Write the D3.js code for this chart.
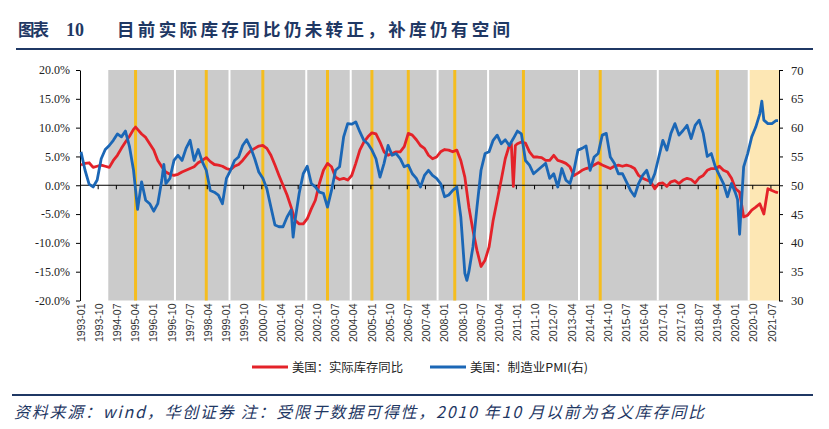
<!DOCTYPE html>
<html><head><meta charset="utf-8">
<script src="https://cdn.jsdelivr.net/npm/d3@7"></script>
<style>
html,body{margin:0;padding:0;background:#fff;}
svg{display:block;}
</style></head>
<body>
<svg id="chart" width="829" height="429"></svg>
<script>
// ---------- DATA ----------
const titleLabel = "图表";
const titleNumber = "10";
const titleText = "目前实际库存同比仍未转正，补库仍有空间";
const sourceText = "资料来源：wind，华创证券 注：受限于数据可得性，2010 年10 月以前为名义库存同比";
const seriesNames = ["美国：实际库存同比", "美国：制造业PMI(右)"];

const startMonth = "1993-01";
const endMonth = "2021-10";
const xTickLabels = ["1993-01","1993-10","1994-07","1995-04","1996-01","1996-10","1997-07","1998-04","1999-01","1999-10","2000-07","2001-04","2002-01","2002-10","2003-07","2004-04","2005-01","2005-10","2006-07","2007-04","2008-01","2008-10","2009-07","2010-04","2011-01","2011-10","2012-07","2013-04","2014-01","2014-10","2015-07","2016-04","2017-01","2017-10","2018-07","2019-04","2020-01","2020-10","2021-07"];
const leftTicks = [20,15,10,5,0,-5,-10,-15,-20];
const rightTicks = [70,65,60,55,50,45,40,35,30];

// shaded periods
const grayPeriod = ["1994-03","2020-08"];
const orangePeriod = ["2020-08","2021-11"];
const whiteSeparators = ["1996-12","1999-03","2002-05","2004-03","2007-10","2009-11","2013-08","2016-11","2020-08"];
const yellowMarkers = ["1995-04","1998-03","2000-07","2003-03","2005-01","2006-07","2008-06","2011-04","2014-06","2019-04"];

// 美国：实际库存同比 (%)
const inventoryYoY = [
["1993-01",3.5],["1993-03",3.8],["1993-05",3.9],["1993-07",3.1],["1993-09",3.3],["1993-11",3.5],
["1994-01",3.3],["1994-03",3.1],["1994-05",4.3],["1994-07",5.2],["1994-09",6.4],["1994-11",7.5],
["1995-01",8.5],["1995-03",9.7],["1995-04",10.1],["1995-05",9.7],["1995-07",8.9],["1995-09",8.3],["1995-11",7.2],
["1996-01",6.1],["1996-03",4.3],["1996-05",3.2],["1996-07",2.3],["1996-09",1.9],["1996-11",1.7],
["1997-01",1.9],["1997-03",2.3],["1997-05",2.6],["1997-07",2.9],["1997-09",3.2],["1997-11",3.9],
["1998-01",4.3],["1998-03",4.8],["1998-05",4.1],["1998-07",3.6],["1998-09",3.5],["1998-11",3.3],
["1999-01",2.9],["1999-03",2.7],["1999-05",3.3],["1999-07",3.6],["1999-09",4.3],["1999-11",5.2],
["2000-01",6.0],["2000-03",6.4],["2000-05",6.8],["2000-07",6.9],["2000-09",6.4],["2000-11",5.2],
["2001-01",3.5],["2001-03",1.7],["2001-05",0.0],["2001-07",-1.7],["2001-09",-3.8],["2001-11",-6.1],
["2002-01",-6.7],["2002-03",-6.7],["2002-05",-5.8],["2002-07",-4.1],["2002-09",-2.6],["2002-11",0.3],
["2003-01",2.6],["2003-03",3.8],["2003-05",3.2],["2003-07",1.4],["2003-09",1.0],["2003-11",1.2],
["2004-01",0.9],["2004-03",1.7],["2004-05",3.8],["2004-07",6.1],["2004-09",7.5],["2004-11",8.4],
["2005-01",9.1],["2005-03",8.9],["2005-05",7.5],["2005-07",5.8],["2005-09",5.2],["2005-11",5.5],
["2006-01",5.8],["2006-03",5.8],["2006-05",6.7],["2006-07",9.0],["2006-09",8.7],["2006-11",7.9],
["2007-01",6.9],["2007-03",6.4],["2007-05",5.2],["2007-07",4.6],["2007-09",4.9],["2007-11",5.8],
["2008-01",6.2],["2008-03",6.1],["2008-05",5.8],["2008-07",6.1],["2008-09",4.3],["2008-11",1.4],
["2009-01",-3.8],["2009-03",-7.8],["2009-05",-11.3],["2009-07",-14.1],["2009-09",-13.0],["2009-11",-10.7],
["2010-01",-6.1],["2010-03",-2.6],["2010-05",0.9],["2010-07",4.6],["2010-09",6.9],["2010-10",7.2],["2010-11",-0.2],["2010-12",6.9],
["2011-01",7.2],["2011-03",7.5],["2011-05",7.3],["2011-07",5.8],["2011-09",4.9],["2011-11",4.9],
["2012-01",4.8],["2012-03",4.3],["2012-05",4.3],["2012-07",5.2],["2012-09",4.3],["2012-11",4.1],
["2013-01",3.8],["2013-03",3.2],["2013-05",1.7],["2013-07",2.1],["2013-09",2.6],["2013-11",2.9],
["2014-01",3.1],["2014-03",3.5],["2014-05",3.9],["2014-07",3.5],["2014-09",3.2],["2014-11",2.9],
["2015-01",3.3],["2015-03",3.5],["2015-05",3.3],["2015-07",3.5],["2015-09",3.3],["2015-11",2.9],
["2016-01",1.7],["2016-03",1.2],["2016-05",0.9],["2016-07",0.6],["2016-09",-0.6],["2016-11",0.3],
["2017-01",0.4],["2017-03",-0.2],["2017-05",0.6],["2017-07",0.8],["2017-09",0.3],["2017-11",0.9],
["2018-01",1.2],["2018-03",1.0],["2018-05",0.4],["2018-07",1.3],["2018-09",1.7],["2018-11",2.6],
["2019-01",2.9],["2019-03",2.9],["2019-05",3.3],["2019-07",2.6],["2019-09",2.3],["2019-11",1.2],
["2020-01",-0.6],["2020-03",-1.2],["2020-05",-5.5],["2020-07",-5.2],["2020-09",-4.3],["2020-11",-3.8],
["2021-01",-3.2],["2021-03",-5.0],["2021-05",-0.6],["2021-07",-0.9],["2021-09",-1.2],["2021-10",-1.3]
];

// 美国：制造业PMI (右轴)
const pmi = [
["1993-01",55.8],["1993-03",52.6],["1993-05",50.2],["1993-07",49.7],["1993-09",50.9],["1993-11",54.6],
["1994-01",56.2],["1994-03",56.9],["1994-05",57.8],["1994-07",58.9],["1994-09",58.4],["1994-11",59.4],
["1995-01",56.7],["1995-03",52.6],["1995-05",45.8],["1995-07",50.6],["1995-09",47.4],["1995-11",46.8],
["1996-01",45.5],["1996-03",46.8],["1996-05",50.9],["1996-06",53.6],["1996-07",50.3],["1996-09",51.2],["1996-11",54.3],
["1997-01",55.2],["1997-03",54.3],["1997-05",56.4],["1997-07",57.8],["1997-09",54.3],["1997-11",56.2],
["1998-01",54.1],["1998-03",52.6],["1998-05",49.1],["1998-07",48.8],["1998-09",48.3],["1998-11",46.8],
["1999-01",51.2],["1999-03",52.6],["1999-05",54.3],["1999-07",54.9],["1999-09",56.9],["1999-11",57.9],
["2000-01",56.5],["2000-03",54.6],["2000-05",52.3],["2000-07",51.2],["2000-09",49.4],["2000-11",46.2],
["2001-01",43.1],["2001-03",42.8],["2001-05",42.8],["2001-07",44.5],["2001-09",45.7],["2001-10",41.0],["2001-11",44.0],
["2002-01",48.6],["2002-03",52.0],["2002-05",53.3],["2002-07",50.3],["2002-09",49.7],["2002-11",48.8],
["2003-01",48.6],["2003-03",46.2],["2003-05",49.1],["2003-07",52.6],["2003-09",53.2],["2003-11",58.4],
["2004-01",60.7],["2004-03",60.6],["2004-05",61.0],["2004-07",59.3],["2004-09",57.8],["2004-11",57.2],
["2005-01",56.1],["2005-03",54.6],["2005-05",51.4],["2005-07",53.8],["2005-09",56.9],["2005-11",55.2],
["2006-01",55.5],["2006-03",54.6],["2006-05",53.2],["2006-07",53.5],["2006-09",52.0],["2006-11",51.2],
["2007-01",49.7],["2007-03",51.7],["2007-05",52.6],["2007-07",51.7],["2007-09",51.2],["2007-11",50.3],
["2008-01",48.0],["2008-03",48.3],["2008-05",49.1],["2008-07",49.7],["2008-09",44.5],["2008-11",34.7],["2008-12",33.5],
["2009-01",35.0],["2009-03",39.3],["2009-05",46.2],["2009-07",52.6],["2009-09",55.5],["2009-11",55.8],
["2010-01",57.8],["2010-03",58.7],["2010-05",57.2],["2010-07",57.9],["2010-09",56.9],["2010-11",58.1],
["2011-01",59.4],["2011-03",58.9],["2011-05",54.3],["2011-07",53.5],["2011-09",52.0],["2011-11",52.6],
["2012-01",53.2],["2012-03",53.8],["2012-05",51.2],["2012-07",52.0],["2012-09",49.7],["2012-11",52.9],
["2013-01",50.9],["2013-03",50.3],["2013-05",52.6],["2013-07",56.1],["2013-09",56.4],["2013-11",56.8],
["2014-01",52.6],["2014-03",54.9],["2014-05",55.5],["2014-07",58.7],["2014-09",59.0],["2014-11",54.9],
["2015-01",53.8],["2015-03",52.0],["2015-05",52.0],["2015-07",50.6],["2015-09",49.1],["2015-11",48.1],
["2016-01",50.3],["2016-03",51.7],["2016-05",52.6],["2016-07",50.3],["2016-09",52.0],["2016-11",54.9],
["2017-01",57.8],["2017-03",56.1],["2017-05",59.0],["2017-07",60.7],["2017-09",58.7],["2017-11",59.5],
["2018-01",60.4],["2018-03",58.1],["2018-05",60.4],["2018-07",61.3],["2018-09",59.0],["2018-11",55.0],
["2019-01",55.5],["2019-03",53.2],["2019-05",51.7],["2019-07",50.3],["2019-09",48.0],["2019-11",50.3],
["2020-01",48.6],["2020-02",47.5],["2020-03",41.5],["2020-04",47.4],["2020-05",53.2],["2020-07",55.5],["2020-09",58.4],["2020-11",60.1],
["2021-01",62.4],["2021-02",64.6],["2021-03",61.3],["2021-05",60.7],["2021-07",60.7],["2021-09",61.2],["2021-10",61.2]
];

// ---------- CHART ----------
const svg = d3.select("#chart");
const W = 829, H = 429;
const m = {left: 80, right: 779, top: 70, bottom: 300.5};
const cjk = "'Noto Sans CJK SC','Noto Sans',sans-serif";
const navy = "#1f3864";

const idx = s => { const [y, mo] = s.split("-").map(Number); return (y - 1993) * 12 + (mo - 1); };
const nMonths = idx(endMonth) - idx(startMonth) + 1;

const xB = d3.scaleLinear().domain([0, nMonths]).range([m.left, m.right]); // month boundaries
const xC = s => xB(idx(s) + 0.5);                                           // month centers
const yL = d3.scaleLinear().domain([-20, 20]).range([m.bottom, m.top]);
const yR = d3.scaleLinear().domain([30, 70]).range([m.bottom, m.top]);

svg.append("rect").attr("width", W).attr("height", H).attr("fill", "#fff");

// Title
svg.append("text").attr("x", 18).attr("y", 36).attr("font-family", cjk).attr("font-weight", 700)
  .attr("font-size", 16.5).attr("fill", navy).attr("textLength", 31).attr("lengthAdjust","spacing").text(titleLabel);
svg.append("text").attr("x", 66).attr("y", 36).attr("font-family", "'Liberation Serif',serif").attr("font-weight", 700)
  .attr("font-size", 18).attr("fill", navy).text(titleNumber);
svg.append("text").attr("x", 117).attr("y", 36).attr("font-family", cjk).attr("font-weight", 700)
  .attr("font-size", 17.5).attr("fill", navy).attr("textLength", 393).attr("lengthAdjust","spacing").text(titleText);
svg.append("line").attr("x1", 16).attr("x2", 813).attr("y1", 49).attr("y2", 49).attr("stroke", navy).attr("stroke-width", 2);

// Background periods
const plot = svg.append("g");
plot.append("rect").attr("x", xB(idx(grayPeriod[0]))).attr("y", m.top)
  .attr("width", xB(idx(grayPeriod[1])) - xB(idx(grayPeriod[0]))).attr("height", m.bottom - m.top).attr("fill", "#cbcbcb");
plot.append("rect").attr("x", xB(idx(orangePeriod[0]))).attr("y", m.top)
  .attr("width", m.right - xB(idx(orangePeriod[0]))).attr("height", m.bottom - m.top).attr("fill", "#fde7b4");
plot.selectAll(".sep").data(whiteSeparators).join("line")
  .attr("x1", d => xB(idx(d))).attr("x2", d => xB(idx(d))).attr("y1", m.top).attr("y2", m.bottom)
  .attr("stroke", "#fff").attr("stroke-width", 2);
plot.selectAll(".yel").data(yellowMarkers).join("line")
  .attr("x1", d => xC(d)).attr("x2", d => xC(d)).attr("y1", m.top).attr("y2", m.bottom)
  .attr("stroke", "#f5bd1f").attr("stroke-width", 3);

// zero line and x ticks
svg.append("line").attr("x1", m.left).attr("x2", m.right).attr("y1", yL(0)).attr("y2", yL(0))
  .attr("stroke", "#000").attr("stroke-width", 1);
svg.selectAll(".xt").data(xTickLabels.slice(1)).join("line")
  .attr("x1", d => xB(idx(d))).attr("x2", d => xB(idx(d))).attr("y1", yL(0)).attr("y2", yL(0) + 4)
  .attr("stroke", "#000").attr("stroke-width", 1);

// x labels
svg.selectAll(".xl").data(xTickLabels).join("text")
  .attr("transform", d => `translate(${xC(d)},${m.bottom + 3}) rotate(-90)`)
  .attr("text-anchor", "end").attr("dy", "0.35em")
  .attr("font-family", "'Liberation Sans',Arial,sans-serif").attr("font-size", 10.5).attr("fill", "#333")
  .text(d => d);

// left axis
const gl = svg.append("g").attr("transform", `translate(${m.left},0)`)
  .call(d3.axisLeft(yL).tickValues(leftTicks).tickSize(4).tickSizeOuter(0).tickFormat(d => d.toFixed(1) + "%"));
gl.select(".domain").attr("stroke", "#000");
gl.selectAll(".tick line").attr("stroke", "#000");
gl.selectAll("text").attr("font-family", "'Liberation Serif','Times New Roman',serif").attr("font-size", 12).attr("fill", "#222").attr("x", -10);

// right axis
const gr = svg.append("g").attr("transform", `translate(${m.right},0)`)
  .call(d3.axisRight(yR).tickValues(rightTicks).tickSize(4).tickSizeOuter(0));
gr.select(".domain").attr("stroke", "#000");
gr.selectAll(".tick line").attr("stroke", "#000");
gr.selectAll("text").attr("font-family", "'Liberation Serif','Times New Roman',serif").attr("font-size", 12.5).attr("fill", "#222").attr("x", 12);

// lines
const lineL = d3.line().x(d => xC(d[0])).y(d => yL(d[1]));
const lineR = d3.line().x(d => xC(d[0])).y(d => yR(d[1]));
svg.append("path").datum(inventoryYoY).attr("d", lineL).attr("fill", "none")
  .attr("stroke", "#e42229").attr("stroke-width", 2.8).attr("stroke-linejoin", "round");
svg.append("path").datum(pmi).attr("d", lineR).attr("fill", "none")
  .attr("stroke", "#1b67b6").attr("stroke-width", 2.8).attr("stroke-linejoin", "round");

// legend
const lg = svg.append("g");
const legendItems = [{name: seriesNames[0], color: "#e42229", x: 252, w: 111}, {name: seriesNames[1], color: "#1b67b6", x: 430, w: 118}];
lg.selectAll("line").data(legendItems).join("line")
  .attr("x1", d => d.x).attr("x2", d => d.x + 36).attr("y1", 367).attr("y2", 367)
  .attr("stroke", d => d.color).attr("stroke-width", 2.8);
lg.selectAll("text").data(legendItems).join("text")
  .attr("x", d => d.x + 40).attr("y", 371.5).attr("font-family", cjk).attr("font-size", 12).attr("fill", "#222")
  .attr("textLength", d => d.w).attr("lengthAdjust", "spacingAndGlyphs")
  .text(d => d.name);

// footer
svg.append("line").attr("x1", 12).attr("x2", 813).attr("y1", 395).attr("y2", 395).attr("stroke", navy).attr("stroke-width", 2);
svg.append("text").attr("x", 14).attr("y", 418).attr("font-family", cjk).attr("font-style", "italic")
  .attr("font-size", 16).attr("fill", navy).attr("textLength", 690).attr("lengthAdjust", "spacing").text(sourceText);
</script>
</body></html>
